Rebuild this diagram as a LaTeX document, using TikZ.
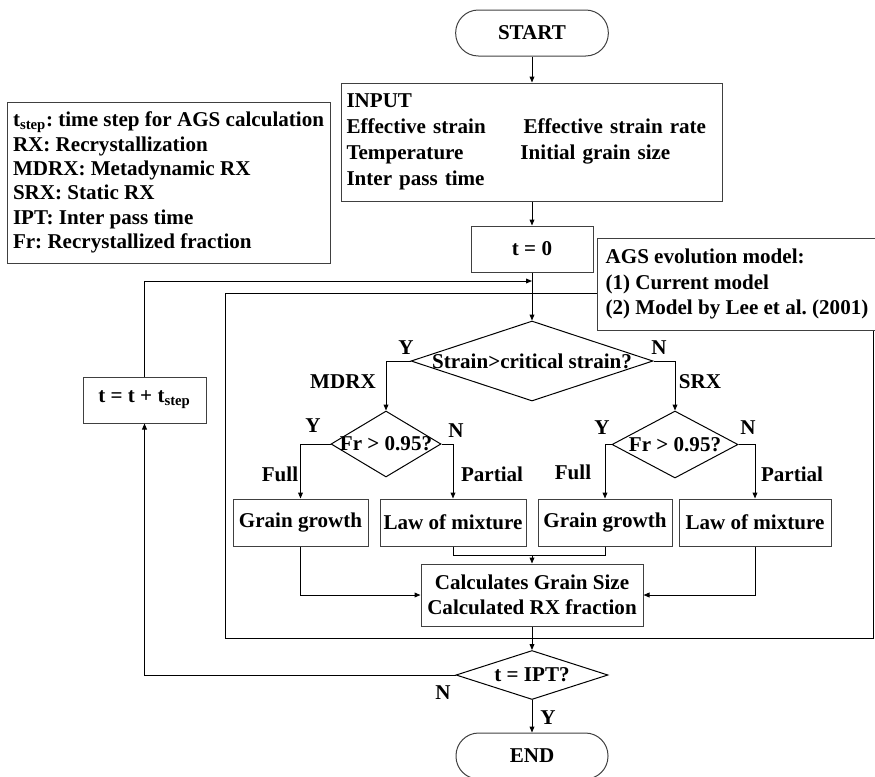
\documentclass[tikz,border=0pt]{standalone}
\usepackage{fontspec}
\setmainfont{Liberation Serif}
\usetikzlibrary{shapes.geometric,arrows.meta,positioning}
\frenchspacing

\begin{document}
\begin{tikzpicture}[
  x=0.75pt, y=-0.75pt,
  every node/.style={font=\bfseries\fontsize{15.8}{18.3}\selectfont,
    inner sep=0pt},
  fbox/.style={rectangle, draw=black!75, line width=0.75pt, fill=white,
    minimum height=35.25pt},
  term/.style={rectangle, rounded corners=17pt, draw=black!75,
    line width=0.75pt, minimum width=114.5pt, minimum height=34.5pt},
  decide/.style={diamond, draw=black, line width=0.75pt, inner sep=0pt},
  farr/.style={-{Triangle[length=4.5pt,width=3.6pt]}, line width=0.75pt},
  fline/.style={line width=0.75pt},
]
  \useasboundingbox (0,0) rectangle (875,776);

  %% -- Outer frame of the AGS loop --------------------------------
  \node[rectangle, draw=black, line width=0.75pt,
    minimum width=486pt, minimum height=258.75pt] (frame) at (549,465.5) {};

  %% -- Start, input and notes -------------------------------------
  \node[term] (start) at (532,33) {START};
  \node[fbox, minimum width=285.75pt, minimum height=88.5pt,
    text width=278.25pt, align=left,
    font=\bfseries\fontsize{15.8}{19.5}\selectfont] (input) at (532,142) {%
    INPUT\\
    \makebox[132.75pt][l]{Effective strain}Effective strain rate\\
    \makebox[130.5pt][l]{Temperature}Initial grain size\\
    Inter pass time};
  \node[fbox, minimum width=242.25pt, minimum height=120.75pt,
    align=left] (legend) at (168.5,182.5) {%
    t\textsubscript{step}: time step for AGS calculation\\
    RX: Recrystallization\\
    MDRX: Metadynamic RX\\
    SRX: Static RX\\
    IPT: Inter pass time\\
    Fr: Recrystallized fraction};
  \node[fbox, minimum width=91.5pt, minimum height=34.5pt] (t0) at (532,249) {t = 0};
  \node[fbox, minimum width=210pt, minimum height=69pt, align=left,
    font=\bfseries\fontsize{15.8}{19}\selectfont] (ags) at (737,284) {%
    AGS evolution model:\\
    (1) Current model\\
    (2) Model by Lee et al. (2001)};
  \node[fbox, minimum width=92.25pt, minimum height=34.5pt] (tnext) at (144.5,400)
    {t = t + t\textsubscript{step}};

  %% -- Decisions ----------------------------------------------------
  \node[decide, minimum width=181.5pt, minimum height=60pt] (d1) at (532,361)
    {\makebox[0pt]{Strain>critical strain?}};
  \node[decide, minimum width=82.5pt, minimum height=49.5pt] (d2) at (386,444)
    {\makebox[0pt]{Fr > 0.95?}};
  \node[decide, minimum width=94.5pt, minimum height=50.25pt] (d3) at (675,444.5)
    {\makebox[0pt]{Fr > 0.95?}};

  %% -- Grain size updates -------------------------------------------
  \node[fbox, minimum width=101.25pt] (gg1) at (300.5,522.5) {Grain growth};
  \node[fbox, minimum width=109.5pt]  (lm1) at (453,522.5)   {Law of mixture};
  \node[fbox, minimum width=100.5pt]  (gg2) at (605,522.5)   {Grain growth};
  \node[fbox, minimum width=114pt]    (lm2) at (755,522.5)   {Law of mixture};
  \node[fbox, minimum width=166.5pt, minimum height=46.5pt, align=center,
    font=\bfseries\fontsize{15.8}{18.75}\selectfont] (calc) at (532,595) {%
    Calculates Grain Size\\Calculated RX fraction};

  \node[decide, minimum width=114pt, minimum height=36.75pt] (d4) at (532,675)
    {\makebox[0pt]{t = IPT?}};
  \node[term, minimum width=114pt] (end) at (532,756) {END};

  %% -- Branch labels ------------------------------------------------
  \node (lY1) at (406,348) {Y};
  \node (lN1) at (659,348) {N};
  \node (lmdrx) at (343,382) {MDRX};
  \node (lsrx) at (700,382) {SRX};
  \node (lY2) at (313,426) {Y};
  \node (lN2) at (456,431) {N};
  \node (lfull1) at (280,474) {Full};
  \node (lpart1) at (492,474) {Partial};
  \node (lY3) at (602,428) {Y};
  \node (lN3) at (748,428) {N};
  \node (lfull2) at (573,472) {Full};
  \node (lpart2) at (792,474) {Partial};
  \node (lN4) at (443,693) {N};
  \node (lY4) at (548,718) {Y};

  %% -- Connectors ---------------------------------------------------
  \coordinate (loop) at (532,281);
  \coordinate (join) at (532,555);

  \foreach \f/\t in {start/input, input/t0, t0/d1, calc/d4, d4/end}
    \draw[farr] (\f) -- (\t);
  \draw[farr] (tnext.north) |- (loop);
  \draw[farr] (d1.west) -| (d2.north);
  \draw[farr] (d1.east) -| (d3.north);
  \draw[farr] (d2.west) -| (gg1.north);
  \draw[farr] (d2.east) -| (lm1.north);
  \draw[farr] (d3.west) -| (gg2.north);
  \draw[farr] (d3.east) -| (lm2.north);
  \draw[fline] (lm1.south) |- (join) -| (gg2.south);
  \draw[farr] (join) -- (calc.north);
  \draw[farr] (gg1.south) |- (calc.west);
  \draw[farr] (lm2.south) |- (calc.east);
  \draw[farr] (d4.west) -| (tnext.south);

\end{tikzpicture}
\end{document}
